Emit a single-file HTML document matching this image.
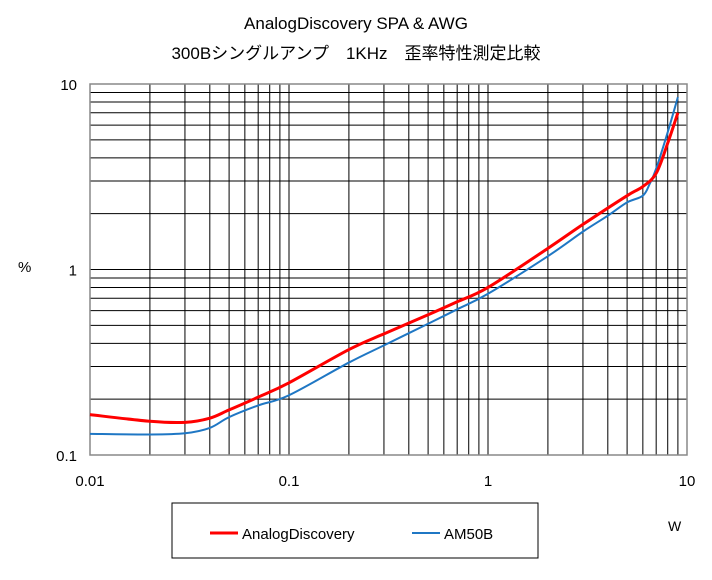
<!DOCTYPE html>
<html><head><meta charset="utf-8"><style>
body{margin:0;background:#fff;}
svg text{font-family:"Liberation Sans","Noto Sans CJK JP",sans-serif;fill:#000;}
</style></head><body>
<svg id="chart" width="712" height="575" xmlns="http://www.w3.org/2000/svg">
<text x="356" y="29" font-size="17" text-anchor="middle">AnalogDiscovery SPA &amp; AWG</text>
<text x="356" y="59" font-size="17" text-anchor="middle">300Bシングルアンプ　1KHz　歪率特性測定比較</text>
<g id="grid"></g>
<g id="ticks"></g>
<g id="series"></g>
<text x="18" y="272" font-size="15">%</text>
<text x="668" y="531" font-size="14">W</text>
<rect x="172" y="503" width="366" height="55" fill="#fff" stroke="#000" stroke-width="1"/>
<g>
<line x1="210" y1="533" x2="238" y2="533" stroke="#f00" stroke-width="3"/>
<text x="242" y="539" font-size="15">AnalogDiscovery</text></g>
<g>
<line x1="412" y1="533" x2="440" y2="533" stroke="#1f77c4" stroke-width="2"/>
<text x="444" y="539" font-size="15">AM50B</text></g>
</svg>
<script>
const xTicks=[0.01,0.1,1,10];
const xTickLabels=["0.01","0.1","1","10"];
const yTicks=[0.1,1,10];
const yTickLabels=["0.1","1","10"];
const redX=[0.01,0.02,0.03,0.04,0.05,0.07,0.1,0.2,0.3,0.5,0.7,1,2,3,5,6,7,8,9];
const redY=[0.165,0.152,0.15,0.158,0.175,0.205,0.245,0.37,0.45,0.57,0.67,0.8,1.3,1.75,2.5,2.8,3.3,4.8,7.0];
const blueX=[0.01,0.02,0.03,0.04,0.05,0.07,0.1,0.2,0.3,0.5,0.7,1,2,3,4,5,6,6.5,7,8,9];
const blueY=[0.13,0.129,0.131,0.14,0.16,0.185,0.21,0.315,0.39,0.51,0.61,0.74,1.18,1.6,1.95,2.3,2.5,2.9,3.5,5.5,8.5];
const L=90,R=687,T=84,B=455;
const xs=v=>L+(Math.log10(v)+2)/3*(R-L);
const ys=v=>B-(Math.log10(v)+1)/2*(B-T);
const NS="http://www.w3.org/2000/svg";
function mk(tag,attrs,parent){const e=document.createElementNS(NS,tag);for(const k in attrs)e.setAttribute(k,attrs[k]);parent.appendChild(e);return e;}
const grid=document.getElementById('grid');
for(let d=-2;d<1;d++)for(let m=1;m<10;m++){const x=xs(m*Math.pow(10,d));
 const l=mk('line',{x1:x,x2:x,y1:T,y2:B,stroke:'#000','stroke-width':1},grid);
 
 }
for(let d=-1;d<1;d++)for(let m=1;m<10;m++){const y=ys(m*Math.pow(10,d));
 const l=mk('line',{x1:L,x2:R,y1:y,y2:y,stroke:'#000','stroke-width':1},grid);
 
 }
const fr=mk('rect',{x:L,y:T,width:R-L,height:B-T,fill:'none',stroke:'#888','stroke-width':1.5},grid);


const tk=document.getElementById('ticks');
xTicks.forEach((v,i)=>{const t=mk('text',{x:xs(v),y:486,'font-size':15,'text-anchor':'middle'},tk);t.textContent=xTickLabels[i];
 
 });
yTicks.forEach((v,i)=>{const t=mk('text',{x:77,y:ys(v)+6,'font-size':15,'text-anchor':'end'},tk);t.textContent=yTickLabels[i];
 
 });
function path(X,Y){const p=X.map((x,i)=>[xs(x),ys(Y[i])]);let d='M'+p[0][0]+','+p[0][1];
 for(let i=0;i<p.length-1;i++){const p0=p[Math.max(0,i-1)],p1=p[i],p2=p[i+1],p3=p[Math.min(p.length-1,i+2)];
 d+=' C'+(p1[0]+(p2[0]-p0[0])/6)+','+(p1[1]+(p2[1]-p0[1])/6)+' '+(p2[0]-(p3[0]-p1[0])/6)+','+(p2[1]-(p3[1]-p1[1])/6)+' '+p2[0]+','+p2[1];}
 return d;}
const sg=document.getElementById('series');
const b=mk('path',{d:path(blueX,blueY),fill:'none',stroke:'#1f77c4','stroke-width':2},sg);


const r=mk('path',{d:path(redX,redY),fill:'none',stroke:'#f00','stroke-width':3},sg);


</script>
</body></html>
